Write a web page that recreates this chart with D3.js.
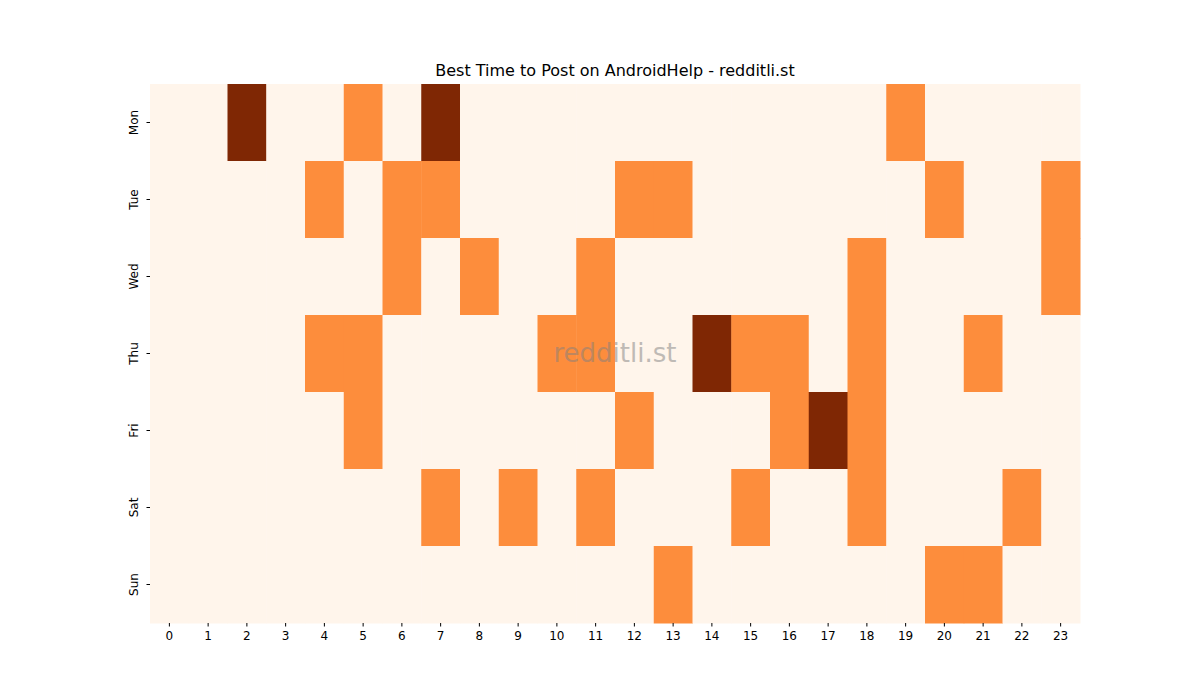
<!DOCTYPE html>
<html><head><meta charset="utf-8">
<script src="https://cdn.jsdelivr.net/npm/d3@7"></script>
<style>body{margin:0;background:#fff}</style></head>
<body><svg id="c" width="1200" height="700"></svg>
<script>
const days = ["Mon","Tue","Wed","Thu","Fri","Sat","Sun"];
const hours = d3.range(24).map(String);
const mon = [0,0,2,0,0,1,0,2,0,0,0,0,0,0,0,0,0,0,0,1,0,0,0,0];
const tue = [0,0,0,0,1,0,1,1,0,0,0,0,1,1,0,0,0,0,0,0,1,0,0,1];
const wed = [0,0,0,0,0,0,1,0,1,0,0,1,0,0,0,0,0,0,1,0,0,0,0,1];
const thu = [0,0,0,0,1,1,0,0,0,0,1,1,0,0,2,1,1,0,1,0,0,1,0,0];
const fri = [0,0,0,0,0,1,0,0,0,0,0,0,1,0,0,0,1,2,1,0,0,0,0,0];
const sat = [0,0,0,0,0,0,0,1,0,1,0,1,0,0,0,1,0,0,1,0,0,0,1,0];
const sun = [0,0,0,0,0,0,0,0,0,0,0,0,0,1,0,0,0,0,0,0,1,1,0,0];
const rows = [mon,tue,wed,thu,fri,sat,sun];
const colors = ["#fff5eb","#fd8d3c","#7f2704"];

const svg = d3.select("#c");
const L=150,R=1080,T=84,B=623;
const x = d3.scaleBand().domain(hours).range([L,R]);
const y = d3.scaleBand().domain(days).range([T,B]);
const cells = [];
rows.forEach((r,i)=>r.forEach((v,j)=>cells.push({d:days[i],h:hours[j],v})));
svg.append("g").selectAll("rect").data(cells).join("rect")
  .attr("x",d=>x(d.h)).attr("y",d=>y(d.d))
  .attr("width",x.bandwidth()+0.5).attr("height",y.bandwidth()+0.5)
  .attr("fill",d=>colors[d.v]);
const font="DejaVu Sans, sans-serif";
const xa = svg.append("g").attr("transform",`translate(0,${B})`).call(d3.axisBottom(x).tickSize(3.5).tickPadding(5));
xa.select(".domain").remove();
xa.selectAll("text").attr("font-size",12).attr("font-family",font).attr("fill","#000");
const ya = svg.append("g").attr("transform",`translate(${L},0)`).call(d3.axisLeft(y).tickSize(3.5).tickPadding(5));
ya.select(".domain").remove();
ya.selectAll("text").attr("font-size",12).attr("font-family",font).attr("fill","#000")
  .attr("transform",function(d){return `rotate(-90,-8.5,${y.bandwidth()/2})`;})
  .attr("text-anchor","middle").attr("x",-8.5).attr("dy","0.35em")
  .attr("transform","rotate(-90 -12 0)").attr("x",-12).attr("y",0);
ya.selectAll(".tick text").attr("transform","rotate(-90)").attr("x",0).attr("y",-12).attr("dy","0");
svg.append("text").attr("x",615).attr("y",76).attr("text-anchor","middle")
  .attr("font-family",font).attr("font-size",16).text("Best Time to Post on AndroidHelp - redditli.st");
svg.append("text").attr("x",615).attr("y",362).attr("text-anchor","middle")
  .attr("font-family",font).attr("font-size",26).attr("fill","#808080").attr("opacity",0.5).text("redditli.st");
</script></body></html>
